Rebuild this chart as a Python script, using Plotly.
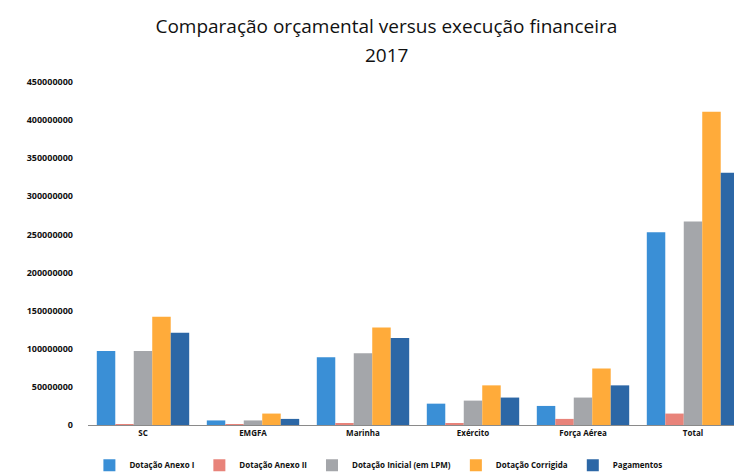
import plotly.graph_objects as go

categories = ["SC", "EMGFA", "Marinha", "Exército", "Força Aérea", "Total"]
dotacao_anexo_i = [97e6, 6e6, 89e6, 28e6, 25e6, 253e6]
dotacao_anexo_ii = [1e6, 0.5e6, 2e6, 2e6, 8e6, 15e6]
dotacao_inicial = [97e6, 6e6, 94e6, 32e6, 36e6, 267e6]
dotacao_corrigida = [142e6, 15e6, 128e6, 52e6, 74e6, 411e6]
pagamentos = [121e6, 8e6, 114e6, 36e6, 52e6, 331e6]

series_names = ["Dotação Anexo I", "Dotação Anexo II", "Dotação Inicial (em LPM)",
                "Dotação Corrigida", "Pagamentos"]
series_values = [dotacao_anexo_i, dotacao_anexo_ii, dotacao_inicial, dotacao_corrigida, pagamentos]
colors = ["#3a8fd6", "#e8837a", "#a4a6aa", "#ffab3a", "#2c67a6"]

title_line1 = "Comparação orçamental versus execução financeira"
title_line2 = "2017"

y_ticks = [i * 50000000 for i in range(10)]
y_tick_labels = [str(v) for v in y_ticks]

fig = go.Figure()
for name, vals, c in zip(series_names, series_values, colors):
    fig.add_trace(go.Bar(name=name, x=categories, y=vals, marker_color=c,
                         marker_line_width=0))

fig.update_layout(
    width=742, height=474,
    barmode="group", bargap=0.16, bargroupgap=0.0,
    paper_bgcolor="white", plot_bgcolor="white",
    margin=dict(l=80, r=2, t=74, b=46),
    font=dict(family="Open Sans", color="#111111"),
    title=dict(text=title_line1,
               x=0.51, xanchor="center", y=1 - 18 / 474, yanchor="middle",
               font=dict(size=19, color="#111111", family="Open Sans")),
    annotations=[dict(text=title_line2, xref="paper", yref="paper",
                      x=(378 - 80) / 660, y=1 + (74 - 46) / 354,
                      xanchor="center", yanchor="middle", showarrow=False,
                      font=dict(size=19, color="#111111", family="Open Sans"))],
    legend=dict(orientation="h", x=0.44, xanchor="center", y=-0.075, yanchor="top",
                font=dict(size=8, color="#111111", weight="bold"),
                itemwidth=30, traceorder="normal", tracegroupgap=0),
    xaxis=dict(showgrid=False, showline=True, linecolor="#8a8a8a", linewidth=1,
               tickfont=dict(size=8, color="#111111", weight="bold"), ticks=""),
    yaxis=dict(range=[0, 450000000], tickvals=y_ticks, ticktext=y_tick_labels,
               showgrid=False, zeroline=False, showline=False,
               tickfont=dict(size=9, color="#111111", weight="bold"), ticks="",
               ticklabelstandoff=14),
)

fig.write_html("out.html")
